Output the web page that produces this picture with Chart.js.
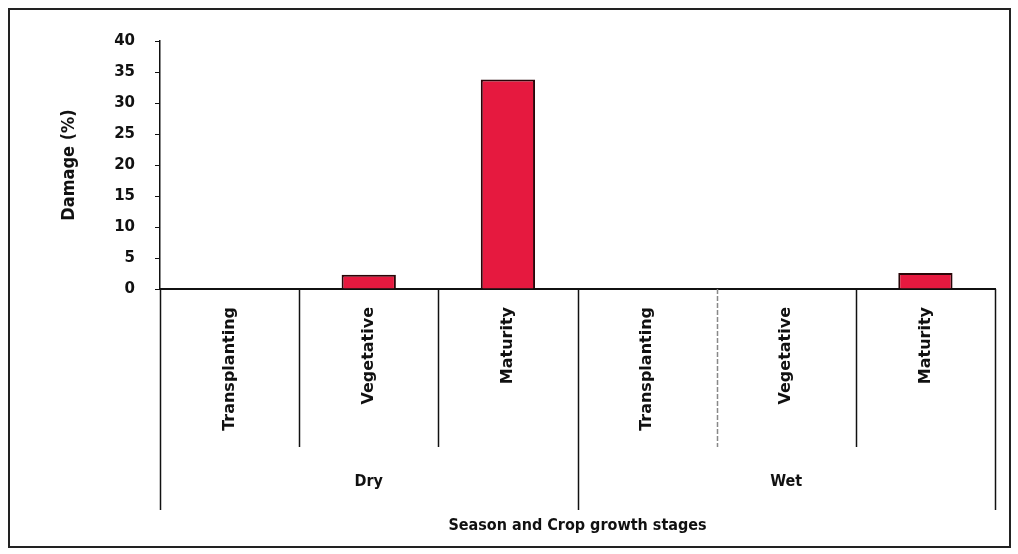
<!DOCTYPE html>
<html>
<head>
<meta charset="utf-8">
<script src="https://cdn.jsdelivr.net/npm/chart.js@4"></script>
<style>
  html, body { margin: 0; padding: 0; background: #fff; }
  #wrap { position: relative; width: 1018px; height: 554px; }
  #frame { position: absolute; left: 8px; top: 8px; width: 999px; height: 536px; border: 2px solid #222; }
  canvas { position: absolute; left: 0; top: 0; }
</style>
</head>
<body>
<div id="wrap">
  <div id="frame"></div>
  <canvas id="barChart"></canvas>
</div>
<script>
// chart values
const stages = ['Transplanting', 'Vegetative', 'Maturity', 'Transplanting', 'Vegetative', 'Maturity'];
const seasons = ['Dry', 'Wet'];
const stagesPerSeason = 3;
const damage = [0, 2.3, 33.8, 0, 0, 2.6];
const yMax = 40;
const yStep = 5;

const narrow = '"Liberation Sans Narrow", "DejaVu Sans Condensed", "Liberation Sans", sans-serif';

// draws the separators under the x axis and the season labels
const groupAxis = {
  id: 'groupAxis',
  afterDraw(chart) {
    const x = chart.scales.x;
    const ctx = chart.ctx;
    const base = x.top;
    ctx.save();
    ctx.lineWidth = 1.5;
    for (let i = 0; i <= stages.length; i++) {
      const px = Math.round(x.getPixelForValue(i - 0.5)) + 0.5;
      const isGroup = i % stagesPerSeason === 0;
      ctx.beginPath();
      if (i === 4) {
        ctx.strokeStyle = '#888';
        ctx.setLineDash([5, 2]);
      } else {
        ctx.strokeStyle = '#111';
        ctx.setLineDash([]);
      }
      ctx.moveTo(px, base);
      ctx.lineTo(px, isGroup ? base + 221 : base + 158);
      ctx.stroke();
    }
    ctx.setLineDash([]);
    ctx.fillStyle = '#111';
    ctx.font = 'bold 16px ' + narrow;
    ctx.textAlign = 'center';
    ctx.textBaseline = 'middle';
    seasons.forEach((s, g) => {
      const l = x.getPixelForValue(g * stagesPerSeason - 0.5);
      const r = x.getPixelForValue((g + 1) * stagesPerSeason - 0.5);
      ctx.fillText(s, (l + r) / 2, base + 193);
    });
    ctx.restore();
  }
};

const ctx = document.getElementById('barChart').getContext('2d');
const chart = new Chart(ctx, {
  type: 'bar',
  data: {
    labels: stages,
    datasets: [{
      label: 'Damage (%)',
      data: damage,
      backgroundColor: '#e6193f',
      borderColor: '#2a0508',
      borderWidth: 2,
      barPercentage: 0.39,
      categoryPercentage: 1
    }]
  },
  options: {
    responsive: true,
    maintainAspectRatio: false,
    animation: false,
    layout: { padding: { left: 0, top: 41, right: 23, bottom: 0 } },
    plugins: { legend: { display: false }, tooltip: { enabled: false } },
    scales: {
      x: {
        offset: true,
        grid: { display: false },
        border: { display: true, color: '#111', width: 2 },
        ticks: {
          autoSkip: false,
          maxRotation: 90,
          minRotation: 90,
          padding: 10,
          color: '#111',
          font: { family: '"DejaVu Sans", sans-serif', size: 16, weight: 'bold' }
        },
        title: {
          display: true,
          text: 'Season and Crop growth stages',
          color: '#111',
          font: { family: narrow, size: 16, weight: 'bold' },
          padding: { top: 0, bottom: 19 }
        },
        afterFit(scale) { scale.height = 265; }
      },
      y: {
        min: 0,
        max: yMax,
        ticks: {
          stepSize: yStep,
          padding: 20,
          color: '#111',
          font: { family: '"DejaVu Sans", sans-serif', size: 15, weight: 'bold' }
        },
        grid: { drawOnChartArea: false, drawTicks: true, tickLength: 5, color: '#111' },
        border: { display: true, color: '#111', width: 1.5 },
        title: {
          display: true,
          text: 'Damage (%)',
          color: '#111',
          font: { family: narrow, size: 18, weight: 'bold' },
          padding: { top: 59, bottom: 0 }
        },
        afterFit(scale) { scale.width = 160; }
      }
    }
  },
  plugins: [groupAxis]
});
</script>
</body>
</html>
